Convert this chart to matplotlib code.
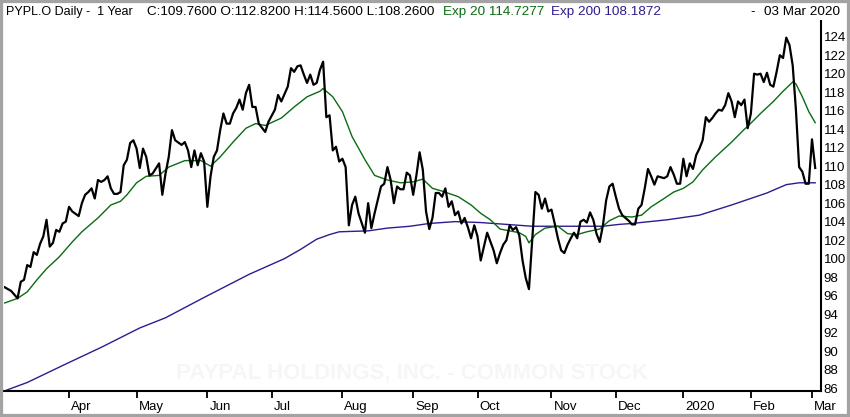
import matplotlib
matplotlib.use("Agg")
import matplotlib.pyplot as plt
from matplotlib.patches import Rectangle
from matplotlib.transforms import ScaledTranslation

plt.rcParams["font.family"] = ["Liberation Sans", "DejaVu Sans"]

# x = trading day index, 0 = 04 Mar 2019, 252 = 03 Mar 2020
close_day = [0, 1, 2, 4, 5, 6, 7, 8, 9, 10, 11, 12, 13, 14, 15, 16, 17, 18, 19, 20,
             21, 23, 24, 25, 26, 27, 28, 29, 30, 31, 32, 33, 34, 35, 36, 37, 38, 39, 40,
             41, 42, 43, 44, 45, 46, 48, 49, 50, 51, 52, 53, 55, 56, 57, 58, 59, 60, 61,
             62, 63, 64, 65, 66, 67, 68, 69, 70, 71, 72, 73, 74, 75, 76, 77, 78, 79, 81,
             82, 84, 85, 86, 88, 89, 90, 91, 92, 93, 94, 95, 96, 97, 98, 99, 100, 101,
             102, 103, 104, 105, 106, 107, 108, 109, 110, 112, 113, 114, 115, 117, 118,
             119, 120, 121, 122, 123, 124, 125, 126, 127, 128, 129, 130, 131, 132, 133,
             134, 135, 136, 137, 138, 139, 140, 141, 142, 143, 144, 145, 146, 147, 148,
             149, 150, 152, 153, 154, 155, 156, 157, 158, 159, 160, 161, 162, 163, 165,
             166, 167, 168, 169, 170, 171, 172, 173, 174, 175, 176, 177, 178, 179, 180,
             181, 182, 183, 184, 185, 186, 187, 188, 189, 190, 191, 192, 194, 195, 196,
             197, 198, 199, 200, 201, 202, 203, 204, 205, 206, 207, 208, 209, 210, 211,
             212, 213, 214, 215, 216, 217, 218, 219, 220, 221, 222, 223, 224, 225, 226,
             227, 228, 229, 230, 231, 232, 233, 234, 235, 236, 237, 238, 239, 240, 241,
             242, 243, 244, 245, 246, 247, 248, 249, 250, 251, 252]
close_px = [96.9, 96.7, 96.5, 95.7, 97.5, 97.7, 99.3, 99.1, 100.7, 100.4, 101.6, 102.4,
            104.2, 101.3, 101.7, 103.1, 102.9, 103.8, 104.0, 105.6,
            105.1, 104.6, 106.0, 106.9, 107.2, 107.6, 106.5, 108.5, 108.3, 108.5, 108.9,
            107.6, 107.0, 107.0, 107.2, 110.1, 110.7, 112.5, 112.8,
            111.9, 109.8, 111.9, 111.0, 109.0, 109.2, 110.3, 106.9, 109.2, 111.0, 113.9,
            112.8, 112.3, 112.6, 111.7, 109.9, 111.7, 110.1, 111.4,
            110.5, 105.6, 108.9, 111.0, 111.7, 113.9, 115.7, 114.6, 114.6, 115.7, 116.3,
            117.2, 116.1, 117.9, 118.8, 116.4, 116.4, 114.6, 113.7,
            114.8, 116.1, 117.7, 117.0, 118.6, 120.6, 120.2, 120.8, 120.9, 119.9, 119.0,
            119.9, 118.8, 119.0, 120.4, 121.3, 115.3, 115.5,
            111.7, 112.1, 110.5, 110.8, 109.9, 103.6, 105.8, 106.7, 104.9, 102.8, 106.0,
            103.3, 104.9, 107.8, 108.1,
            109.9, 108.5, 106.0, 107.8, 107.5, 107.5, 109.3, 109.0, 106.9, 109.0, 111.5,
            109.6, 105.1, 103.2, 104.4,
            107.1, 107.1, 106.7, 107.6, 105.6, 106.2, 104.7, 105.1, 103.8, 104.4, 103.4,
            102.2, 103.6, 102.4, 99.8,
            101.3, 102.8, 100.9, 99.5, 100.6, 101.5, 102.0, 103.6, 103.1, 103.4, 102.5,
            99.8, 97.9, 96.7, 107.2,
            106.9, 105.4, 106.5, 105.1, 105.3, 103.8, 102.2, 100.9, 100.6, 101.5, 102.2,
            102.8, 102.2, 104.0, 104.2,
            103.9, 105.0, 104.2, 102.7, 101.8, 103.6, 106.3, 107.8, 108.1, 106.7, 105.4,
            104.7, 104.1, 103.7, 103.7,
            105.4, 105.8, 107.6, 109.7, 108.9, 108.0, 108.9, 108.8, 108.7, 108.9, 109.9,
            109.1, 108.1, 108.1, 110.8,
            108.9, 110.3, 109.7, 111.2, 111.9, 112.8, 115.3, 114.8, 115.2, 115.7, 116.1,
            116.0, 116.6, 117.9, 117.0,
            115.3, 117.0, 116.6, 117.2, 114.1, 115.7, 120.0, 119.9, 120.0, 119.1, 120.1,
            118.8, 118.6, 120.2, 122.0,
            121.7, 123.9, 123.1, 120.9, 116.1, 109.9, 109.4, 108.1, 108.1, 112.9, 109.8]

ema20_day = [0, 4, 7, 10, 13, 17, 21, 24, 29, 33, 36, 38, 41, 44, 48, 51, 56, 61, 64,
             67, 71, 75, 78, 81, 86, 90, 94, 98, 99, 102, 105, 108, 112, 115, 119, 123,
             127, 130, 133, 136, 141, 145, 148, 151, 154, 157, 160, 162, 163, 165, 168,
             172, 175, 178, 181, 185, 188, 191, 195, 198, 201, 205, 208, 211, 214, 217,
             221, 226, 230, 231, 235, 239, 242, 245, 246, 248, 250, 252]
ema20_val = [95.2, 95.7, 96.4, 97.7, 98.9, 100.2, 101.8, 102.9, 104.4, 105.8, 106.2,
             106.9, 108.2, 108.9, 109.0, 109.9, 110.6, 110.6, 110.0,
             111.0, 112.6, 114.1, 114.6, 114.4, 115.2, 116.4, 117.5, 118.1, 118.4, 117.5,
             115.9, 113.2, 110.7, 109.0, 108.5, 108.2,
             108.3, 108.6, 107.6, 107.3, 106.7, 105.8, 104.9, 104.2, 103.2, 103.0, 102.8,
             102.4, 101.7, 102.6, 103.3,
             103.5, 102.7, 102.6, 102.9, 103.2, 104.1, 104.6, 104.5, 104.7, 105.6, 106.5,
             107.2, 107.6, 108.3, 109.6,
             111.0, 112.6, 114.0, 114.3, 115.7, 117.0, 118.1, 119.1, 118.9, 117.5, 115.9,
             114.7]

ema200_day = [0, 7, 19, 30, 42, 50, 62, 76, 87, 92, 97, 101, 104, 113, 119, 126, 132,
              140, 148, 156, 164, 172, 181, 186, 191, 195, 206, 216, 226, 237, 243, 247,
              252]
ema200_val = [85.7, 86.6, 88.6, 90.4, 92.5, 93.6, 95.8, 98.3, 100.0, 101.0, 102.1,
              102.6, 102.9, 103.0, 103.3, 103.5, 103.8, 104.0, 103.9, 103.7, 103.5,
              103.5, 103.5, 103.5, 103.7, 103.8, 104.2, 104.7, 105.8, 107.1, 108.0,
              108.2, 108.2]

month_day = [20, 41, 63, 83, 105, 127, 147, 170, 190, 211, 232, 251]
month_lbl = ["Apr", "May", "Jun", "Jul", "Aug", "Sep", "Oct", "Nov", "Dec", "2020",
             "Feb", "Mar"]
price_ticks = list(range(86, 125, 2))

GREEN = "#0b6b12"
PURPLE = "#2e1c8e"

W, H = 850, 417
fig = plt.figure(figsize=(W / 100, H / 100), dpi=100)
ax = fig.add_axes([4 / W, 1 - 391 / H, (821 - 4) / W, (391 - 21) / H])

# faint watermark
ax.text(0.5, 0.05, "PAYPAL HOLDINGS, INC. - COMMON STOCK", transform=ax.transAxes,
        ha="center", va="center", fontsize=16, fontweight="bold", color="#f6f6f6",
        family=["Liberation Sans Narrow", "Liberation Sans"], zorder=0)

ax.plot(ema200_day, ema200_val, color=PURPLE, lw=1.0, zorder=2)
ax.plot(ema20_day, ema20_val, color=GREEN, lw=1.0, zorder=3)
ax.plot(close_day, close_px, color="black", lw=1.6, zorder=4)

ax.set_xlim(-0.22, 253.8)
ax.set_ylim(85.68, 125.7)

for s in ("top", "left"):
    ax.spines[s].set_visible(False)
for s in ("right", "bottom"):
    ax.spines[s].set_linewidth(1.5)
    ax.spines[s].set_color("black")

ax.yaxis.tick_right()
ax.set_yticks(price_ticks)
ax.set_yticklabels([str(v) for v in price_ticks])
ax.tick_params(axis="y", length=0, pad=2, labelsize=9.5, colors="black")

ax.set_xticks(month_day)
ax.set_xticklabels(month_lbl)
ax.tick_params(axis="x", direction="out", length=5, width=1.3, pad=2.5, labelsize=9.5)
shift = ScaledTranslation(2 / 100, 0, fig.dpi_scale_trans)
for lab in ax.get_xticklabels():
    lab.set_horizontalalignment("left")
    lab.set_transform(lab.get_transform() + shift)

# header line
hy = 1 - 15 / H
hdr = dict(fontsize=9.7, va="baseline", transform=fig.transFigure)
fig.text(6 / W, hy, "PYPL.O Daily -  1 Year", color="black", fontsize=9.0,
         va="baseline", transform=fig.transFigure)
fig.text(147 / W, hy, "C:109.7600 O:112.8200 H:114.5600 L:108.2600", color="black", **hdr)
fig.text(443 / W, hy, "Exp 20 114.7277", color=GREEN, **hdr)
fig.text(551 / W, hy, "Exp 200 108.1872", color=PURPLE, **hdr)
fig.text(750 / W, hy, "-", color="black", **hdr)
fig.text(840 / W, hy, "03 Mar 2020", color="black", ha="right", **hdr)

fig.patches.append(Rectangle((0, 0), 1, 1, transform=fig.transFigure, fill=False,
                             edgecolor="#a3a3a3", lw=4.5))

fig.savefig("out.png", dpi=100)
